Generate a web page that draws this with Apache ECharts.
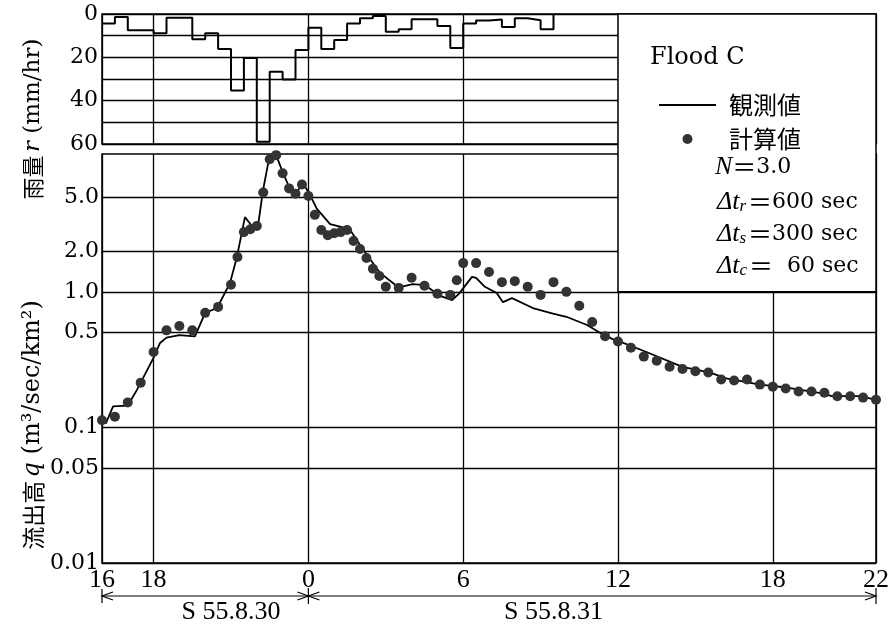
<!DOCTYPE html>
<html>
<head>
<meta charset="utf-8">
<script src="https://cdn.jsdelivr.net/npm/echarts@6/dist/echarts.min.js"></script>
<style>
  html, body { margin: 0; padding: 0; background: #fff; }
  #chart { width: 894px; height: 628px; }
</style>
</head>
<body>
<div id="chart"></div>
<script>
// 時刻は 8/31 0時を 0 とした時間 (16時 = -8)
// 雨量 (30分ごと, mm/hr)
const rainHours = [-8, -7.5, -7, -6.5, -6, -5.5, -5, -4.5, -4, -3.5, -3, -2.5, -2, -1.5, -1, -0.5,
  0, 0.5, 1, 1.5, 2, 2.5, 3, 3.5, 4, 4.5, 5, 5.5, 6, 6.5, 7, 7.5, 8, 8.5, 9, 9.5];
const rainValues = [4.4, 1.4, 7.5, 7.5, 8.9, 1.7, 1.7, 11.6, 8.9, 16.2, 35.3, 20.3, 59, 26.6, 30.2, 16.6,
  6.3, 16.2, 12, 4.4, 2.0, 0.9, 8.2, 7.0, 2.4, 2.4, 5.5, 15.7, 4.4, 3.0, 2.5, 6.0, 2.0, 2.9, 7.0, 0];

// 観測値 (流出高 q)
const obsHours = [-8.0, -7.85, -7.57, -7.0, -6.64, -6.0, -5.75, -5.5, -5.0, -4.4,
  -4.0, -3.54, -3.04, -2.77, -2.46, -2.15, -1.95, -1.76, -1.53, -1.25,
  -0.98, -0.74, -0.48, -0.2, 0.06, 0.33, 0.84, 1.6, 1.88, 2.27,
  2.78, 3.36, 3.67, 4.05, 4.52, 5.1, 5.57, 5.84, 6.34, 6.5,
  6.84, 7.3, 7.54, 7.89, 8.7, 9.48, 10.0, 10.8, 11.3, 11.77,
  12.08, 13.1, 14.5, 15.57, 16.2, 17.5, 18.55, 19.8, 20.3, 21.4, 22.0];
const obsValues = [0.115, 0.107, 0.143, 0.145, 0.19, 0.327, 0.42, 0.46, 0.48, 0.47,
  0.70, 0.76, 1.16, 1.81, 3.56, 3.0, 3.1, 5.6, 9.5, 10.2,
  7.5, 5.9, 5.4, 6.3, 5.2, 4.1, 3.16, 2.9, 2.4, 1.87,
  1.38, 1.13, 1.1, 1.14, 1.12, 0.935, 0.87, 0.97, 1.29, 1.27,
  1.09, 0.98, 0.84, 0.9, 0.76, 0.69, 0.655, 0.57, 0.5, 0.45,
  0.43, 0.36, 0.28, 0.254, 0.23, 0.207, 0.197, 0.18, 0.17, 0.17, 0.16];

// 計算値
const calcHours = [-8, -7.5, -7, -6.5, -6, -5.5, -5, -4.5, -4, -3.5, -3,
  -2.75, -2.5, -2.25, -2, -1.75, -1.5, -1.25, -1, -0.75, -0.5, -0.25, 0,
  0.25, 0.5, 0.75, 1, 1.25, 1.5, 1.75, 2, 2.25, 2.5, 2.75, 3,
  3.5, 4, 4.5, 5, 5.5, 5.75,
  6, 6.5, 7, 7.5, 8, 8.5, 9, 9.5, 10, 10.5, 11, 11.5,
  12, 12.5, 13, 13.5, 14, 14.5, 15, 15.5, 16, 16.5, 17, 17.5,
  18, 18.5, 19, 19.5, 20, 20.5, 21, 21.5, 22];
const calcValues = [0.113, 0.12, 0.153, 0.214, 0.36, 0.52, 0.56, 0.52, 0.70, 0.775, 1.13,
  1.81, 2.76, 2.9, 3.06, 5.4, 9.5, 10.2, 7.5, 5.8, 5.3, 6.2, 5.1,
  3.7, 2.86, 2.62, 2.71, 2.76, 2.86, 2.37, 2.07, 1.78, 1.48, 1.31, 1.09,
  1.07, 1.27, 1.11, 0.97, 0.95, 1.22,
  1.63, 1.63, 1.40, 1.18, 1.2, 1.09, 0.95, 1.18, 1.0, 0.79, 0.60, 0.47,
  0.43, 0.387, 0.333, 0.31, 0.28, 0.27, 0.26, 0.254, 0.226, 0.222, 0.226, 0.207,
  0.2, 0.194, 0.184, 0.184, 0.18, 0.17, 0.17, 0.166, 0.16];

// 目盛
const xTicks = [-8, -6, 0, 6, 12, 18, 22];
const qTicks = [0.01, 0.05, 0.1, 0.5, 1, 2, 5];
const qLabels = ['0.01', '0.05', '0.1', '0.5', '1.0', '2.0', '5.0'];

const SERIF = 'DejaVu Serif';
const CJK = 'Noto Sans CJK JP';
const BLACK = '#000';

const zip = (xs, ys) => xs.map((x, i) => [x, ys[i]]);

const chart = echarts.init(document.getElementById('chart'));

const gridLine = { show: true, lineStyle: { color: BLACK, width: 1.3, type: 'solid' } };

const option = {
  animation: false,
  backgroundColor: '#fff',
  grid: [
    { left: 102, top: 14, width: 774, height: 130, show: true, borderColor: BLACK, borderWidth: 1.5 },
    { left: 102, top: 154, width: 774, height: 409, show: true, borderColor: BLACK, borderWidth: 1.5 },
  ],
  xAxis: [
    {
      type: 'value', gridIndex: 0, min: -8, max: 22,
      axisLine: { show: false },
      axisTick: { show: false, customValues: xTicks },
      axisLabel: { show: false },
      splitLine: gridLine,
    },
    {
      type: 'value', gridIndex: 1, min: -8, max: 22,
      axisLine: { show: false },
      axisTick: { show: false, customValues: xTicks },
      axisLabel: {
        customValues: xTicks,
        formatter: (v) => String(v < 0 ? v + 24 : v),
        fontFamily: 'Liberation Serif', fontSize: 26, color: BLACK, margin: 4,
      },
      splitLine: gridLine,
    },
  ],
  yAxis: [
    {
      type: 'value', gridIndex: 0, inverse: true, min: 0, max: 60, interval: 10,
      axisLine: { show: false },
      axisTick: { show: false },
      axisLabel: {
        formatter: (v) => (v % 20 === 0 ? String(v) : ''),
        fontFamily: SERIF, fontSize: 22, color: BLACK, margin: 4,
      },
      splitLine: gridLine,
    },
    {
      type: 'log', gridIndex: 1, logBase: 10, min: 0.01, max: 10.4,
      axisLine: { show: false },
      axisTick: { show: false, customValues: qTicks },
      axisLabel: {
        customValues: qTicks,
        formatter: (v) => {
          const i = qTicks.findIndex((t) => Math.abs(Math.log10(t) - Math.log10(v)) < 1e-6);
          return i >= 0 ? qLabels[i] : '';
        },
        fontFamily: SERIF, fontSize: 22, color: BLACK, margin: 3,
      },
      minorTick: { show: false },
      minorSplitLine: { show: false },
      splitLine: gridLine,
    },
  ],
  legend: {
    orient: 'vertical',
    left: 658,
    top: 92,
    padding: 0,
    z: 200,
    itemWidth: 57,
    itemHeight: 10,
    itemGap: 8,
    data: [
      { name: '観測値', itemStyle: { opacity: 0 } },
      { name: '計算値' },
    ],
    textStyle: { fontFamily: CJK, fontSize: 24, color: BLACK, lineHeight: 26, padding: [0, 0, 0, 8] },
  },
  series: [
    {
      name: '雨量',
      type: 'line',
      xAxisIndex: 0, yAxisIndex: 0,
      step: 'end',
      symbol: 'none',
      lineStyle: { color: BLACK, width: 2 },
      data: zip(rainHours, rainValues),
      z: 5,
    },
    {
      name: '観測値',
      type: 'line',
      xAxisIndex: 1, yAxisIndex: 1,
      symbol: 'none',
      lineStyle: { color: BLACK, width: 1.8 },
      itemStyle: { color: BLACK },
      data: zip(obsHours, obsValues),
      z: 5,
    },
    {
      name: '計算値',
      type: 'scatter',
      xAxisIndex: 1, yAxisIndex: 1,
      symbolSize: 10,
      itemStyle: { color: '#333', opacity: 1 },
      data: zip(calcHours, calcValues),
      z: 6,
    },
  ],
};

chart.setOption(option);

// 注記類 (軸の座標から位置を求める)
const px = (h) => chart.convertToPixel({ xAxisIndex: 1 }, h);
const pyQ = (q) => chart.convertToPixel({ yAxisIndex: 1 }, q);
const boxL = px(12), boxR = px(22), boxT = 14, boxB = pyQ(1);
const x16 = px(-8), x0 = px(0), x22 = px(22);
const arrowY = 596;

const stroke = { stroke: BLACK, lineWidth: 1.2, fill: null };
const line = (x1, y1, x2, y2) => ({ type: 'line', z: 100, shape: { x1, y1, x2, y2 }, style: stroke });
const head = (x, dir) => ({
  type: 'polyline', z: 100,
  shape: { points: [[x + dir * 11, arrowY - 4], [x, arrowY], [x + dir * 11, arrowY + 4]] },
  style: stroke,
});
const text = (x, y, t, rich, extra) => ({
  type: 'text', z: 110, x, y,
  style: Object.assign({ text: t, rich, fill: BLACK, verticalAlign: 'middle' }, extra || {}),
});

const paramRich = {
  d: { fontFamily: 'Liberation Serif', fontStyle: 'italic', fontSize: 26 },
  t: { fontFamily: 'Liberation Serif', fontStyle: 'italic', fontSize: 26 },
  s: { fontFamily: 'Liberation Serif', fontStyle: 'italic', fontSize: 17, padding: [10, 2, 0, 0] },
  e: { fontFamily: CJK, fontSize: 24 },
  n: { fontFamily: SERIF, fontSize: 22 },
};

chart.setOption({
  graphic: [
    {
      type: 'rect', z: 90,
      shape: { x: boxL, y: boxT, width: boxR - boxL, height: boxB - boxT },
      style: { fill: '#fff', stroke: BLACK, lineWidth: 1.5 },
    },
    text(650, 58, 'Flood C', null, { font: '24px "DejaVu Serif"' }),
    text(715, 167, '{t|N}{e|＝}{n|3.0}', paramRich),
    text(717, 202, '{d|Δ}{t|t}{s|r}{e|＝}{n|600 sec}', paramRich),
    text(717, 234, '{d|Δ}{t|t}{s|s}{e|＝}{n|300 sec}', paramRich),
    text(717, 266, '{d|Δ}{t|t}{s|c}{e|＝}{n|  60 sec}', paramRich),
    // 縦軸タイトル
    {
      type: 'text', z: 110, x: 33, y: 119, rotation: Math.PI / 2,
      style: {
        text: '{c|雨量} {i|r}{l| (mm/hr)}',
        align: 'center', verticalAlign: 'middle', fill: BLACK,
        rich: {
          c: { fontFamily: CJK, fontSize: 22 },
          i: { fontFamily: SERIF, fontStyle: 'italic', fontSize: 23 },
          l: { fontFamily: SERIF, fontSize: 23 },
        },
      },
    },
    {
      type: 'text', z: 110, x: 33, y: 425, rotation: Math.PI / 2,
      style: {
        text: '{c|流出高} {i|q}{l| (m³/sec/km²)}',
        align: 'center', verticalAlign: 'middle', fill: BLACK,
        rich: {
          c: { fontFamily: CJK, fontSize: 23 },
          i: { fontFamily: SERIF, fontStyle: 'italic', fontSize: 24 },
          l: { fontFamily: SERIF, fontSize: 24 },
        },
      },
    },
    // 日付の矢印
    line(x16, arrowY, x0, arrowY),
    line(x0, arrowY, x22, arrowY),
    head(x16, 1), head(x0, -1), head(x0, 1), head(x22, -1),
    line(x16, arrowY - 7, x16, arrowY + 7),
    line(x0, arrowY - 8, x0, arrowY + 8),
    line(x22, arrowY - 8, x22, arrowY + 8),
    text(px(-3), 612, 'S 55.8.30', null, { font: '26px "Liberation Serif"', align: 'center' }),
    text(px(9.5), 612, 'S 55.8.31', null, { font: '26px "Liberation Serif"', align: 'center' }),
  ],
});
</script>
</body>
</html>
